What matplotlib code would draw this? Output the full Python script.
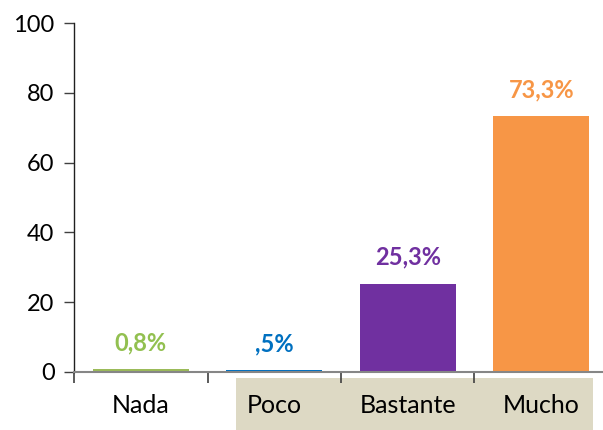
import matplotlib
matplotlib.use("Agg")
import matplotlib.pyplot as plt
from matplotlib.patches import Rectangle
from matplotlib.ticker import FixedLocator

plt.rcParams['font.family'] = ['Lato', 'DejaVu Sans']

# data
categories = ["Nada", "Poco", "Bastante", "Mucho"]
values = [0.8, 0.5, 25.3, 73.3]
value_labels = ["0,8%", ",5%", "25,3%", "73,3%"]
bar_colors = ["#9BBB59", "#0070C0", "#7030A0", "#F79646"]
label_colors = ["#92C050", "#0070C0", "#7030A0", "#F79646"]
yticks = [0, 20, 40, 60, 80, 100]

fig = plt.figure(figsize=(6.03, 4.30), dpi=100)
ax = fig.add_axes([74 / 603, 58 / 430, 534 / 603, 349 / 430])

xs = range(len(categories))
ax.bar(xs, values, width=0.72, color=bar_colors, zorder=2)

for x, v, lab, c in zip(xs, values, value_labels, label_colors):
    ax.annotate(lab, (x, v), xytext=(0, 19), textcoords="offset points",
                ha="center", va="center", fontsize=17, fontweight="bold", color=c)

ax.set_xlim(-0.5, len(categories) - 0.5)
ax.set_ylim(0, 100)
ax.set_yticks(yticks)
ax.set_xticks(list(xs))
ax.set_xticklabels(categories, fontsize=18)
ax.xaxis.set_minor_locator(FixedLocator([-0.5, 0.5, 1.5, 2.5]))
ax.tick_params(axis="x", which="major", length=0, pad=16)
ax.tick_params(axis="x", which="minor", length=8, width=1.2, color="#404040", direction="out")
ax.tick_params(axis="y", labelsize=17, length=7, width=1.0, color="#404040", pad=7)

for s in ["top", "right"]:
    ax.spines[s].set_visible(False)
ax.spines["left"].set_color("#202020")
ax.spines["left"].set_linewidth(1.0)
ax.spines["bottom"].set_color("#868686")
ax.spines["bottom"].set_linewidth(1.5)
ax.spines["bottom"].set_zorder(3)

# beige band behind the last three category labels
fig.patches.append(Rectangle((236 / 603, 0), (593 - 236) / 603, 52 / 430,
                             transform=fig.transFigure, facecolor="#DDD9C4",
                             edgecolor="none", zorder=-1))

fig.savefig("out.png", dpi=100)
